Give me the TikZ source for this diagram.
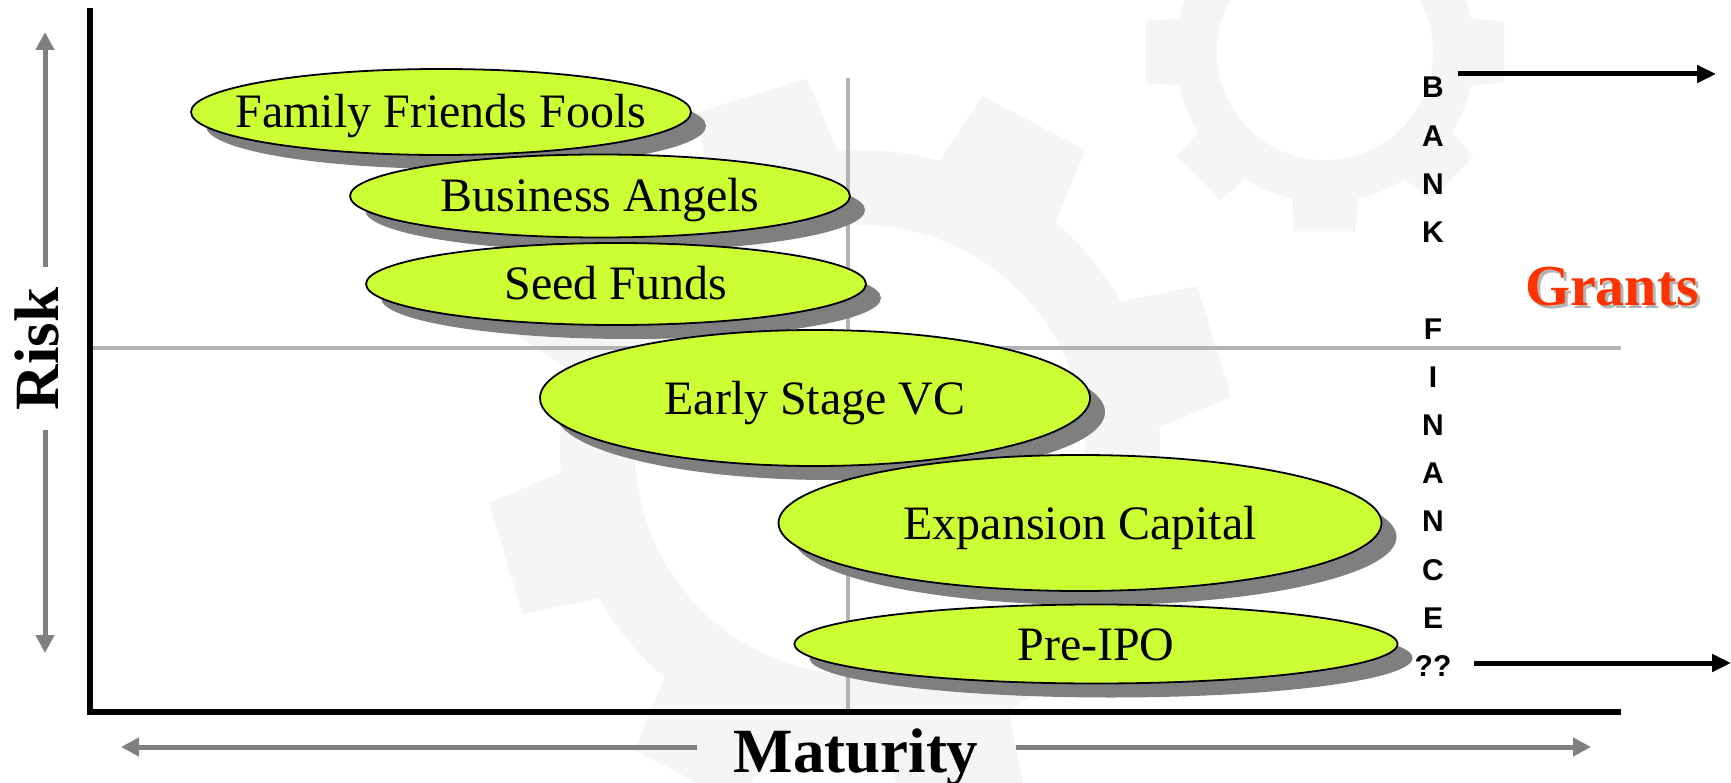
\documentclass[tikz,border=0pt]{standalone}
\usepackage{fontspec}
\setmainfont{Liberation Serif}
\newfontfamily\letterfont{Liberation Sans}
\usetikzlibrary{shapes.geometric,shadows,arrows.meta}

\definecolor{gearfill}{HTML}{F4F5F7}
\definecolor{lime}{HTML}{CCFF33}
\definecolor{shade}{HTML}{7F7F7F}
\definecolor{guide}{HTML}{B3B3B3}
\definecolor{axisarrow}{HTML}{808080}
\definecolor{grantred}{HTML}{FF3300}
\definecolor{grantshade}{HTML}{B4B4B4}

% zero-width box so the ellipse size is set only by its minimum size
\newcommand\stagelabel[1]{\makebox[0pt]{#1}}

\begin{document}
\begin{tikzpicture}[x=1pt,y=-1pt,
  stage/.style={ellipse, draw=black, line width=1.8pt, fill=lime, inner sep=0pt,
    text height=32pt, text depth=0pt,
    font=\fontsize{48}{52}\selectfont,
    drop shadow={shadow xshift=15pt, shadow yshift=-14pt, fill=shade, opacity=1}},
  bigtitle/.style={font=\fontsize{63}{70}\selectfont\bfseries, inner sep=0pt},
  bankletter/.style={font=\letterfont\fontsize{30}{32}\selectfont\bfseries, inner sep=0pt, anchor=base},
  guideline/.style={draw=guide, line width=4.5pt},
  axisline/.style={draw=black, line width=6pt},
  greyarrow/.style={draw=axisarrow, line width=5pt, -{Triangle[length=18pt,width=18pt]}},
  blackarrow/.style={draw=black, line width=5pt, -{Triangle[length=19pt,width=17pt]}}
]
\useasboundingbox (0,0) rectangle (1731,783);
\clip (0,0) rectangle (1731,783);

% faint background gears
\begin{scope}[shift={(860,450)}]
  \fill[gearfill] (0,0) circle[radius=300];
  \foreach \k in {0,...,7}{
    \pgfmathsetmacro\a{-17-45*\k}
    \fill[gearfill] (\a-13.2:292) -- (\a-8.9:375) -- (\a+8.9:375) -- (\a+13.2:292) -- cycle;
  }
  \fill[white] (0,0) circle[radius=225];
\end{scope}
\begin{scope}[shift={(1325,52)}]
  \fill[gearfill] (0,0) circle[radius=150];
  \foreach \k in {0,...,7}{
    \pgfmathsetmacro\a{45*\k}
    \fill[gearfill] (\a-13.5:144) -- (\a-9.8:182) -- (\a+9.8:182) -- (\a+13.5:144) -- cycle;
  }
  \fill[white] (0,0) circle[radius=108];
\end{scope}

% quadrant guides
\coordinate (hguideL) at (92,348);
\coordinate (hguideR) at (1621,348);
\coordinate (vguideT) at (848,78);
\coordinate (vguideB) at (848,710);
\draw[guideline] (hguideL) -- (hguideR);
\draw[guideline] (vguideT) -- (vguideB);

% axes
\coordinate (axistop) at (90,8);
\coordinate (origin) at (90,712);
\coordinate (axisright) at (1621,712);
\draw[axisline] (axistop) -- (origin) -- (axisright);

% funding stages
\node[stage, minimum width=500, minimum height=86] (fff) at (441,112) {\stagelabel{Family Friends Fools}};
\node[stage, minimum width=500, minimum height=83] (ba) at (600,196) {\stagelabel{Business Angels}};
\node[stage, minimum width=500, minimum height=82] (sf) at (616,284) {\stagelabel{Seed Funds}};
\node[stage, minimum width=550, minimum height=136] (esvc) at (815,398) {\stagelabel{Early Stage VC}};
\node[stage, minimum width=603, minimum height=136] (ec) at (1080,523) {\stagelabel{Expansion Capital}};
\node[stage, minimum width=603, minimum height=79] (pipo) at (1096,644) {\stagelabel{Pre-IPO}};

% axis titles and their arrows
\node[bigtitle, rotate=90, anchor=base] (risk) at (58,349) {Risk};
\node[bigtitle, anchor=base] (maturity) at (856,772) {Maturity};
\coordinate (riskupS) at (45,267);
\coordinate (riskupE) at (45,32);
\coordinate (riskdnS) at (45,430);
\coordinate (riskdnE) at (45,653);
\coordinate (matlS) at (697,747);
\coordinate (matlE) at (121,747);
\coordinate (matrS) at (1016,747);
\coordinate (matrE) at (1591,747);
\draw[greyarrow] (riskupS) -- (riskupE);
\draw[greyarrow] (riskdnS) -- (riskdnE);
\draw[greyarrow] (matlS) -- (matlE);
\draw[greyarrow] (matrS) -- (matrE);

% bank finance column
\foreach \ch/\row in {B/0,A/1,N/2,K/3,F/5,I/6,N/7,A/8,N/9,C/10,E/11}
  \node[bankletter] (letter\row) at (1433,{98+48.2*\row}) {\ch};
\node[bankletter] (qq) at (1433,{98+48.2*12}) {??};
\coordinate (bankS) at (1458,74);
\coordinate (bankE) at (1716,74);
\coordinate (qqS) at (1474,663);
\coordinate (qqE) at (1731,663);
\draw[blackarrow] (bankS) -- (bankE);
\draw[blackarrow] (qqS) -- (qqE);

% grants
\node[font=\fontsize{58}{64}\selectfont\bfseries, text=grantshade, anchor=base, inner sep=0pt] (grantsshadow) at (1615,309) {Grants};
\node[font=\fontsize{58}{64}\selectfont\bfseries, text=grantred, anchor=base, inner sep=0pt] (grants) at (1612,306) {Grants};
\end{tikzpicture}
\end{document}
